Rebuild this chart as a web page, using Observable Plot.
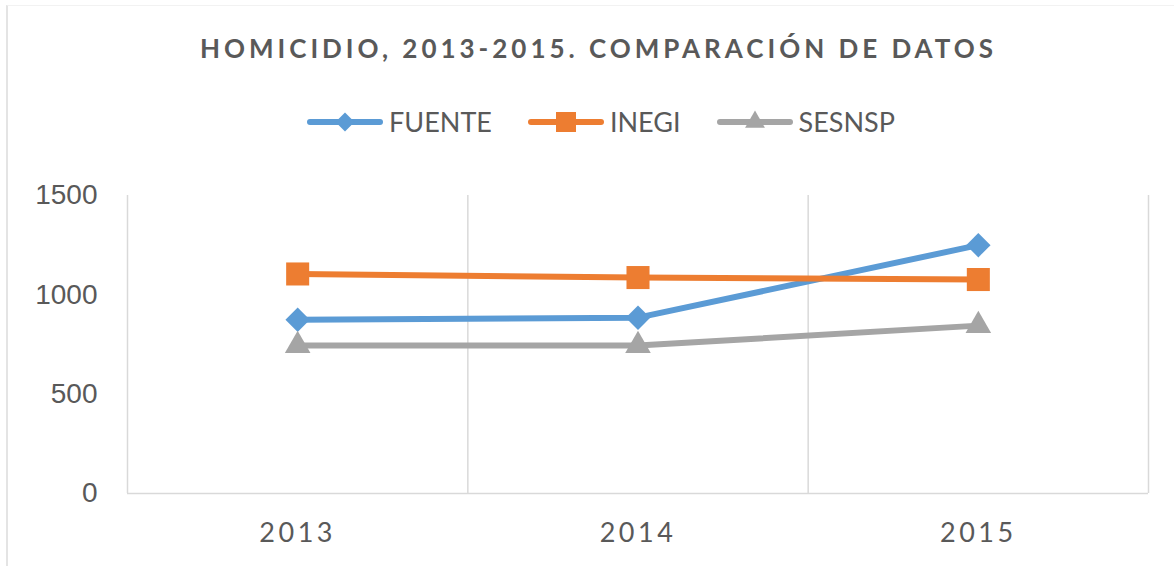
<!DOCTYPE html>
<html>
<head>
<meta charset="utf-8">
<script src="https://cdn.jsdelivr.net/npm/d3@7"></script>
<script src="https://cdn.jsdelivr.net/npm/@observablehq/plot@0.6"></script>
<style>
  html, body { margin: 0; padding: 0; background: #fff; }
  #wrap { position: relative; width: 1174px; height: 566px; overflow: hidden; background: #fff; }
  #border { position: absolute; left: 6px; top: 5px; width: 1200px; height: 600px; border-left: 2px solid #e4e4e4; border-top: 1px solid #f2f2f2; box-sizing: border-box; }
  #title { position: absolute; left: 200px; top: 35px; white-space: nowrap; font: bold 26px Lato, sans-serif; line-height: 26px; color: #595959; }
  #legend { position: absolute; left: 0; top: 103px; width: 1174px; height: 38px; box-sizing: border-box; padding-left: 28px; display: flex; justify-content: center; align-items: center; font: 27px Lato, sans-serif; line-height: 38px; color: #595959; }
  .item { display: flex; align-items: center; margin: 0 18px; }
  .item svg { margin-right: 6px; }
  #chart { position: absolute; left: 0; top: 0; }
</style>
</head>
<body>
<div id="wrap">
  <div id="border"></div>
  <div id="chart"></div>
  <div id="title"></div>
  <div id="legend"></div>
</div>
<script>
// ---- data ----
const titleText = "HOMICIDIO, 2013-2015. COMPARACIÓN DE DATOS";
const years = [2013, 2014, 2015];
const seriesNames = ["FUENTE", "INEGI", "SESNSP"];
const fuente = [875, 885, 1250];
const inegi = [1105, 1087, 1077];
const sesnsp = [745, 745, 845];
const yTicks = [0, 500, 1000, 1500];
const colors = ["#5B9BD5", "#ED7D31", "#A5A5A5"];
const symbols = ["diamond2", "square", "triangle"];
const markerR = [11, 13, 9.5];

// ---- table ----
const seriesValues = [fuente, inegi, sesnsp];
const rows = [];
seriesValues.forEach((vals, i) => vals.forEach((v, j) => rows.push({serie: seriesNames[i], year: years[j], value: v})));
const bounds = [...years.map(y => y - 0.5), years[years.length - 1] + 0.5];

// ---- title ----
const titleEl = document.getElementById("title");
titleEl.textContent = titleText;
const ctx = document.createElement("canvas").getContext("2d");
ctx.font = "bold 26px Lato";
const natural = ctx.measureText(titleText).width;
const targetW = 793;
titleEl.style.letterSpacing = ((targetW - natural) / (titleText.length - 1)) + "px";

// ---- legend ----
const legend = document.getElementById("legend");
seriesNames.forEach((name, i) => {
  const item = document.createElement("div");
  item.className = "item";
  const s = d3.create("svg").attr("width", 76).attr("height", 30);
  s.append("line").attr("x1", 3).attr("x2", 73).attr("y1", 15).attr("y2", 15)
    .attr("stroke", colors[i]).attr("stroke-width", 6).attr("stroke-linecap", "round");
  const sym = {diamond2: d3.symbolDiamond2, square: d3.symbolSquare, triangle: d3.symbolTriangle}[symbols[i]];
  const sizes = [230, 400, 170];
  s.append("path").attr("transform", "translate(38,15)")
    .attr("d", d3.symbol(sym, sizes[i])()).attr("fill", colors[i]);
  item.appendChild(s.node());
  const t = document.createElement("span");
  t.textContent = name;
  item.appendChild(t);
  legend.appendChild(item);
});

// ---- chart ----
const marks = [
  Plot.ruleX(bounds, {x: d => d, y1: 0, y2: yTicks[yTicks.length - 1], stroke: "#d9d9d9", strokeWidth: 1.5}),
  Plot.ruleY([0], {stroke: "#d9d9d9", strokeWidth: 1.5}),
  Plot.axisY({ticks: yTicks, tickFormat: d => String(d), tickSize: 0, tickPadding: 30, fontSize: 28, fontFamily: "Liberation Sans", label: null}),
  Plot.axisX({ticks: years, tickFormat: d => String(d), tickSize: 0, tickPadding: 29, fontSize: 27, fontFamily: "Lato", label: null})
];
seriesNames.forEach((name, i) => {
  const data = rows.filter(r => r.serie === name);
  marks.push(Plot.line(data, {x: "year", y: "value", stroke: colors[i], strokeWidth: 6}));
  marks.push(Plot.dot(data, {x: "year", y: "value", fill: colors[i], symbol: symbols[i], r: markerR[i]}));
});

const chart = Plot.plot({
  width: 1174,
  height: 566,
  marginTop: 195,
  marginBottom: 73,
  marginLeft: 127,
  marginRight: 26,
  style: {color: "#595959", background: "transparent"},
  x: {domain: [bounds[0], bounds[bounds.length - 1]], axis: null},
  y: {domain: [0, yTicks[yTicks.length - 1]], axis: null},
  marks
});
chart.querySelectorAll('[aria-label="x-axis tick label"] text').forEach(t => {
  t.style.letterSpacing = "3.5px";
});
document.getElementById("chart").appendChild(chart);
</script>
</body>
</html>
